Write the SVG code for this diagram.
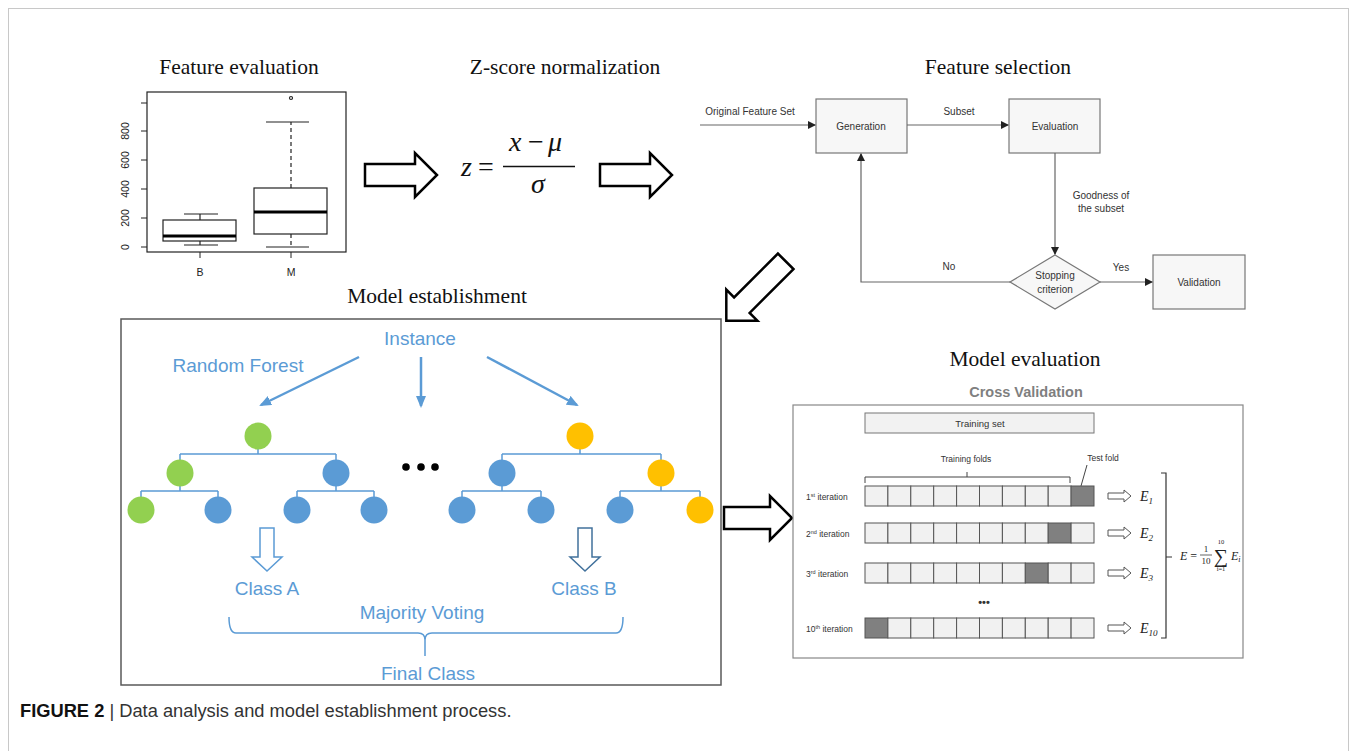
<svg xmlns="http://www.w3.org/2000/svg" width="1357" height="751" viewBox="0 0 1357 751">
<style>
.ttl{font-family:"Liberation Serif",serif;font-size:21.5px;fill:#111;text-anchor:middle}
.ax{font-family:"Liberation Sans",sans-serif;font-size:10.5px;fill:#222;text-anchor:middle}
.math{font-family:"Liberation Serif",serif;font-style:italic;fill:#111}
.fs{font-family:"Liberation Sans",sans-serif;font-size:10px;fill:#333;text-anchor:middle}
.box{fill:#f7f7f7;stroke:#777;stroke-width:1.2}
.ln{fill:none;stroke:#666;stroke-width:1.2}
.hol{fill:#fff;stroke:#000;stroke-width:2.5;stroke-linejoin:miter}
.bl{font-family:"Liberation Sans",sans-serif;font-size:19px;fill:#5b9bd5;text-anchor:middle}
.barr{stroke:#5b9bd5;stroke-width:2.5;fill:none}
.tl{stroke:#5b9bd5;stroke-width:1.5;fill:none}
.g{fill:#92d050}.b{fill:#5b9bd5}.o{fill:#ffc000}
.cell{fill:#f1f1f1;stroke:#555;stroke-width:1}
.dk{fill:#808080;stroke:#555;stroke-width:1}
.it{font-family:"Liberation Sans",sans-serif;font-size:8.5px;fill:#333}
.ev{font-family:"Liberation Serif",serif;font-style:italic;font-size:14px;fill:#222}
</style>
<defs>
<marker id="ah" markerWidth="8" markerHeight="8" refX="7" refY="4" orient="auto" markerUnits="userSpaceOnUse"><path d="M0,0 L8,4 L0,8 z" fill="#222"/></marker>
<marker id="bh" markerWidth="12" markerHeight="10" refX="10" refY="5" orient="auto" markerUnits="userSpaceOnUse"><path d="M0,0 L12,5 L0,10 z" fill="#5b9bd5"/></marker>
</defs>
<rect width="1357" height="751" fill="#fff"/>
<rect x="8.5" y="8.5" width="1340" height="760" fill="none" stroke="#c8c8c8" stroke-width="1"/>

<!-- Feature evaluation boxplot -->
<g id="feature-evaluation">
<text class="ttl" x="239" y="74">Feature evaluation</text>
<rect x="147" y="92" width="199" height="160" fill="none" stroke="#222" stroke-width="1.2"/>
<g stroke="#222" stroke-width="1">
<line x1="141" y1="247" x2="147" y2="247"/><line x1="141" y1="218" x2="147" y2="218"/><line x1="141" y1="189" x2="147" y2="189"/><line x1="141" y1="160" x2="147" y2="160"/><line x1="141" y1="131" x2="147" y2="131"/><line x1="141" y1="103" x2="147" y2="103"/>
<line x1="200" y1="252" x2="200" y2="258"/><line x1="291" y1="252" x2="291" y2="258"/>
</g>
<g class="ax">
<text transform="translate(129,247) rotate(-90)">0</text>
<text transform="translate(129,218) rotate(-90)">200</text>
<text transform="translate(129,189) rotate(-90)">400</text>
<text transform="translate(129,160) rotate(-90)">600</text>
<text transform="translate(129,131) rotate(-90)">800</text>
<text x="200" y="276">B</text>
<text x="291" y="276">M</text>
</g>
<g stroke="#222" stroke-width="1.2" fill="none">
<rect x="163" y="220" width="73" height="21"/>
<line x1="200" y1="220" x2="200" y2="214"/><line x1="184" y1="214" x2="218" y2="214"/>
<line x1="200" y1="241" x2="200" y2="245"/><line x1="184" y1="245" x2="218" y2="245"/>
<rect x="254" y="188" width="73" height="46"/>
<line x1="291" y1="188" x2="291" y2="122" stroke-dasharray="4,3"/><line x1="266" y1="122" x2="309" y2="122"/>
<line x1="291" y1="234" x2="291" y2="247" stroke-dasharray="4,3"/><line x1="266" y1="247" x2="309" y2="247"/>
<circle cx="291" cy="98" r="1.5"/>
</g>
<line x1="163" y1="236" x2="236" y2="236" stroke="#000" stroke-width="3"/>
<line x1="254" y1="212" x2="327" y2="212" stroke="#000" stroke-width="3"/>
</g>

<!-- Z-score -->
<g id="zscore">
<text class="ttl" x="565" y="74">Z-score normalization</text>
<text class="math" x="461" y="176" font-size="28">z</text>
<text x="478" y="176" font-family="Liberation Serif,serif" font-size="28" fill="#111">=</text>
<text class="math" x="509" y="151" font-size="28">x</text>
<text x="528" y="151" font-family="Liberation Serif,serif" font-size="28" fill="#111">−</text>
<text class="math" x="548" y="151" font-size="28">μ</text>
<line x1="503" y1="166.5" x2="575" y2="166.5" stroke="#111" stroke-width="1.3"/>
<text class="math" x="531" y="193" font-size="28">σ</text>
</g>

<!-- Big hollow arrows -->
<g id="flow-arrows">
<polygon class="hol" points="365,164 415,164 415,153 437,175 415,197 415,186 365,186"/>
<polygon class="hol" points="600,164 650,164 650,153 672,175 650,197 650,186 600,186"/>
<polygon class="hol" transform="translate(756,291) rotate(135)" points="-42,-11 20,-11 20,-22 42,0 20,22 20,11 -42,11"/>
<polygon class="hol" points="724,507 770,507 770,496 792,518 770,540 770,529 724,529"/>
</g>

<!-- Feature selection -->
<g id="feature-selection">
<text class="ttl" x="998" y="74">Feature selection</text>
<g id="generation"><rect class="box" x="816" y="99" width="91" height="54"/><text class="fs" x="861" y="129.5">Generation</text></g>
<g id="evaluation"><rect class="box" x="1009" y="99" width="91" height="54"/><text class="fs" x="1055" y="129.5">Evaluation</text></g>
<g id="stopping"><polygon class="box" points="1055,255 1100,282 1055,309 1010,282"/><text class="fs" x="1055" y="279">Stopping</text><text class="fs" x="1055" y="293">criterion</text></g>
<g id="validation"><rect class="box" x="1153" y="255" width="92" height="54"/><text class="fs" x="1199" y="285.5">Validation</text></g>
<g id="fs-connectors">
<line class="ln" x1="700" y1="125" x2="815" y2="125" marker-end="url(#ah)"/>
<line class="ln" x1="907" y1="125" x2="1008" y2="125" marker-end="url(#ah)"/>
<line class="ln" x1="1055" y1="153" x2="1055" y2="254" marker-end="url(#ah)"/>
<line class="ln" x1="1100" y1="282" x2="1152" y2="282" marker-end="url(#ah)"/>
<polyline class="ln" points="1010,282 861,282 861,154" marker-end="url(#ah)"/>
<text class="fs" x="750" y="115">Original Feature Set</text>
<text class="fs" x="959" y="115">Subset</text>
<text class="fs" x="1101" y="199">Goodness of</text>
<text class="fs" x="1101" y="212">the subset</text>
<text class="fs" x="1121" y="271">Yes</text>
<text class="fs" x="949" y="270">No</text>
</g>
</g>

<!-- Model establishment -->
<g id="model-establishment">
<text class="ttl" x="437" y="303">Model establishment</text>
<rect x="121" y="319" width="600" height="366" fill="none" stroke="#595959" stroke-width="1.5"/>
<text class="bl" x="420" y="345">Instance</text>
<text class="bl" x="238" y="372">Random Forest</text>
<g id="instance-arrows">
<line class="barr" x1="359" y1="357" x2="261" y2="405" marker-end="url(#bh)"/>
<line class="barr" x1="421" y1="357" x2="421" y2="406" marker-end="url(#bh)"/>
<line class="barr" x1="487" y1="357" x2="577" y2="405" marker-end="url(#bh)"/>
</g>
<g id="tree1">
<path class="tl" d="M258,449 V454 M180,454 H336 M180,454 V460 M336,454 V460 M180,486 V491 M141,491 H218 M141,491 V497 M218,491 V497 M336,486 V491 M297,491 H374 M297,491 V497 M374,491 V497"/>
<circle class="g" cx="258" cy="436" r="13.5"/>
<circle class="g" cx="180" cy="473" r="13.5"/><circle class="b" cx="336" cy="473" r="13.5"/>
<circle class="g" cx="141" cy="510" r="13.5"/><circle class="b" cx="218" cy="510" r="13.5"/><circle class="b" cx="297" cy="510" r="13.5"/><circle class="b" cx="374" cy="510" r="13.5"/>
</g>
<g id="dots"><circle cx="406" cy="467" r="3.8" fill="#000"/><circle cx="421" cy="467" r="3.8" fill="#000"/><circle cx="435" cy="467" r="3.8" fill="#000"/></g>
<g id="tree2">
<path class="tl" d="M580,449 V454 M502,454 H661 M502,454 V460 M661,454 V460 M502,486 V491 M462,491 H541 M462,491 V497 M541,491 V497 M661,486 V491 M620,491 H700 M620,491 V497 M700,491 V497"/>
<circle class="o" cx="580" cy="436" r="13.5"/>
<circle class="b" cx="502" cy="473" r="13.5"/><circle class="o" cx="661" cy="473" r="13.5"/>
<circle class="b" cx="462" cy="510" r="13.5"/><circle class="b" cx="541" cy="510" r="13.5"/><circle class="b" cx="620" cy="510" r="13.5"/><circle class="o" cx="700" cy="510" r="13.5"/>
</g>
<polygon points="260,528 274,528 274,557 282,557 267,571 252,557 260,557" fill="#fff" stroke="#5b9bd5" stroke-width="1.5"/>
<polygon points="578,528 592,528 592,557 600,557 585,571 570,557 578,557" fill="#fff" stroke="#41719c" stroke-width="1.5"/>
<text class="bl" x="267" y="595">Class A</text>
<text class="bl" x="584" y="595">Class B</text>
<text class="bl" x="422" y="619">Majority Voting</text>
<path class="tl" d="M229,617 Q229,633 236,633 H418 Q425,633 425,640 V656 M425,640 Q425,633 432,633 H616 Q623,633 623,617"/>
<text class="bl" x="428" y="680">Final Class</text>
</g>

<!-- Model evaluation -->
<g id="model-evaluation">
<text class="ttl" x="1025" y="366">Model evaluation</text>
<text x="1026" y="397" font-family="Liberation Sans,sans-serif" font-size="14.5" font-weight="bold" fill="#7f7f7f" text-anchor="middle">Cross Validation</text>
<rect x="793" y="405" width="450" height="253" fill="#fff" stroke="#888" stroke-width="1.2"/>
<rect x="865" y="413" width="229" height="20" fill="#f2f2f2" stroke="#777" stroke-width="1"/>
<text x="980" y="426.5" font-family="Liberation Sans,sans-serif" font-size="9.5" fill="#333" text-anchor="middle">Training set</text>
<text x="966" y="462" font-family="Liberation Sans,sans-serif" font-size="8.5" fill="#333" text-anchor="middle">Training folds</text>
<path d="M865,483 V477 H1070 V483 M967,477 V472" fill="none" stroke="#444" stroke-width="1"/>
<text x="1103" y="461" font-family="Liberation Sans,sans-serif" font-size="8.5" fill="#333" text-anchor="middle">Test fold</text>
<line x1="1087" y1="465" x2="1081" y2="486" stroke="#444" stroke-width="1"/>
<g id="rows">
<g id="row1">
<rect class="cell" x="865" y="486" width="22.9" height="20"/><rect class="cell" x="887.9" y="486" width="22.9" height="20"/><rect class="cell" x="910.8" y="486" width="22.9" height="20"/><rect class="cell" x="933.7" y="486" width="22.9" height="20"/><rect class="cell" x="956.6" y="486" width="22.9" height="20"/><rect class="cell" x="979.5" y="486" width="22.9" height="20"/><rect class="cell" x="1002.4" y="486" width="22.9" height="20"/><rect class="cell" x="1025.3" y="486" width="22.9" height="20"/><rect class="cell" x="1048.2" y="486" width="22.9" height="20"/><rect class="dk" x="1071.1" y="486" width="22.9" height="20"/>
</g>
<g id="row2">
<rect class="cell" x="865" y="523" width="22.9" height="20"/><rect class="cell" x="887.9" y="523" width="22.9" height="20"/><rect class="cell" x="910.8" y="523" width="22.9" height="20"/><rect class="cell" x="933.7" y="523" width="22.9" height="20"/><rect class="cell" x="956.6" y="523" width="22.9" height="20"/><rect class="cell" x="979.5" y="523" width="22.9" height="20"/><rect class="cell" x="1002.4" y="523" width="22.9" height="20"/><rect class="cell" x="1025.3" y="523" width="22.9" height="20"/><rect class="dk" x="1048.2" y="523" width="22.9" height="20"/><rect class="cell" x="1071.1" y="523" width="22.9" height="20"/>
</g>
<g id="row3">
<rect class="cell" x="865" y="563" width="22.9" height="20"/><rect class="cell" x="887.9" y="563" width="22.9" height="20"/><rect class="cell" x="910.8" y="563" width="22.9" height="20"/><rect class="cell" x="933.7" y="563" width="22.9" height="20"/><rect class="cell" x="956.6" y="563" width="22.9" height="20"/><rect class="cell" x="979.5" y="563" width="22.9" height="20"/><rect class="cell" x="1002.4" y="563" width="22.9" height="20"/><rect class="dk" x="1025.3" y="563" width="22.9" height="20"/><rect class="cell" x="1048.2" y="563" width="22.9" height="20"/><rect class="cell" x="1071.1" y="563" width="22.9" height="20"/>
</g>
<g id="row10">
<rect class="dk" x="865" y="618" width="22.9" height="20"/><rect class="cell" x="887.9" y="618" width="22.9" height="20"/><rect class="cell" x="910.8" y="618" width="22.9" height="20"/><rect class="cell" x="933.7" y="618" width="22.9" height="20"/><rect class="cell" x="956.6" y="618" width="22.9" height="20"/><rect class="cell" x="979.5" y="618" width="22.9" height="20"/><rect class="cell" x="1002.4" y="618" width="22.9" height="20"/><rect class="cell" x="1025.3" y="618" width="22.9" height="20"/><rect class="cell" x="1048.2" y="618" width="22.9" height="20"/><rect class="cell" x="1071.1" y="618" width="22.9" height="20"/>
</g>
</g>
<text class="it" x="806" y="499.5">1<tspan font-size="5.5" dy="-3">st</tspan><tspan dy="3"> iteration</tspan></text>
<text class="it" x="806" y="536.5">2<tspan font-size="5.5" dy="-3">nd</tspan><tspan dy="3"> iteration</tspan></text>
<text class="it" x="806" y="576.5">3<tspan font-size="5.5" dy="-3">rd</tspan><tspan dy="3"> iteration</tspan></text>
<text class="it" x="806" y="631.5">10<tspan font-size="5.5" dy="-3">th</tspan><tspan dy="3"> iteration</tspan></text>
<text x="984" y="606" font-family="Liberation Sans,sans-serif" font-size="11" font-weight="bold" fill="#333" text-anchor="middle">•••</text>
<g fill="#fff" stroke="#555" stroke-width="1">
<path d="M1108,493 H1124 V490 L1131,496 L1124,502 V499 H1108 Z"/>
<path d="M1108,530 H1124 V527 L1131,533 L1124,539 V536 H1108 Z"/>
<path d="M1108,570 H1124 V567 L1131,573 L1124,579 V576 H1108 Z"/>
<path d="M1108,625 H1124 V622 L1131,628 L1124,634 V631 H1108 Z"/>
</g>
<text class="ev" x="1140" y="501">E<tspan font-size="9" dy="3">1</tspan></text>
<text class="ev" x="1140" y="538">E<tspan font-size="9" dy="3">2</tspan></text>
<text class="ev" x="1140" y="578">E<tspan font-size="9" dy="3">3</tspan></text>
<text class="ev" x="1140" y="633">E<tspan font-size="9" dy="3">10</tspan></text>
<path d="M1161,473 H1166 V638 H1161 M1166,557 H1172" fill="none" stroke="#333" stroke-width="1.2"/>
<text x="1180" y="560" font-family="Liberation Serif,serif" font-size="12" fill="#222"><tspan font-style="italic">E</tspan> =</text>
<text x="1206" y="552" font-family="Liberation Serif,serif" font-size="9" fill="#222" text-anchor="middle">1</text>
<line x1="1200" y1="555" x2="1212" y2="555" stroke="#222" stroke-width="0.7"/>
<text x="1206" y="564" font-family="Liberation Serif,serif" font-size="9" fill="#222" text-anchor="middle">10</text>
<text x="1221" y="563" font-family="Liberation Serif,serif" font-size="20" fill="#222" text-anchor="middle">∑</text>
<text x="1221" y="544" font-family="Liberation Serif,serif" font-size="6.5" fill="#222" text-anchor="middle">10</text>
<text x="1221" y="571" font-family="Liberation Serif,serif" font-size="6.5" fill="#222" text-anchor="middle">i=1</text>
<text x="1231" y="560" font-family="Liberation Serif,serif" font-style="italic" font-size="12" fill="#222">E<tspan font-size="8" dy="2">i</tspan></text>
</g>

<!-- caption -->
<text x="20" y="717" font-family="Liberation Sans,sans-serif" font-size="18.3" fill="#333"><tspan font-weight="bold" fill="#111">FIGURE 2</tspan> | Data analysis and model establishment process.</text>
</svg>
